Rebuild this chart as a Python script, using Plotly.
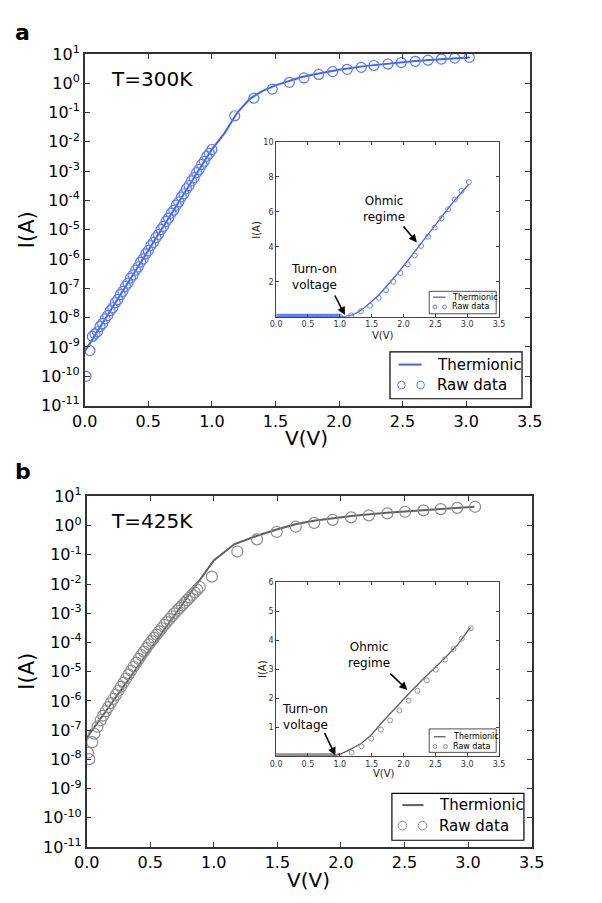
import plotly.graph_objects as go

# ---------------- Panel a : T = 300 K ----------------
v300_fit = [0.0, 1.0, 1.1, 1.2, 1.3, 1.4, 1.5, 1.6, 1.7, 1.8, 1.9, 2.0, 2.2, 2.4, 2.6, 2.8, 3.03]
i300_fit = [7e-10, 5.6e-3, 0.02, 0.1, 0.3, 0.55, 0.85, 1.2, 1.6, 2.0, 2.45, 2.9, 3.85, 4.8, 5.75, 6.65, 7.6]

v300_low = [0.01, 0.04, 0.06, 0.08, 0.10, 0.12, 0.14, 0.16, 0.18, 0.20, 0.22, 0.24, 0.26, 0.28,
            0.30, 0.32, 0.34, 0.36, 0.38, 0.40, 0.42, 0.44, 0.46, 0.48, 0.50, 0.52, 0.54, 0.56,
            0.58, 0.60, 0.62, 0.64, 0.66, 0.68, 0.70, 0.72, 0.74, 0.76, 0.78, 0.80, 0.82, 0.84,
            0.86, 0.88, 0.90, 0.92, 0.94, 0.96, 0.98, 1.00]
log_i300_low = [-10.0, -9.12, -8.64, -8.55, -8.48, -8.30, -8.20, -8.04, -7.93, -7.76, -7.66, -7.49,
                -7.38, -7.21, -7.10, -6.93, -6.82, -6.65, -6.54, -6.38, -6.27, -6.10, -5.99, -5.82,
                -5.71, -5.54, -5.43, -5.27, -5.16, -4.99, -4.88, -4.71, -4.60, -4.43, -4.33, -4.16,
                -4.05, -3.88, -3.77, -3.60, -3.49, -3.33, -3.22, -3.05, -2.94, -2.77, -2.66, -2.49,
                -2.39, -2.26]
v300_high = [1.18, 1.33, 1.475, 1.61, 1.725, 1.84, 1.95, 2.065, 2.175, 2.275, 2.385, 2.49, 2.6,
             2.7, 2.805, 2.91, 3.025]
i300_high = [0.078, 0.31, 0.63, 1.08, 1.52, 2.0, 2.5, 3.0, 3.5, 4.05, 4.57, 5.1, 5.63, 6.15, 6.7,
             7.2, 7.7]

# ---------------- Panel b : T = 425 K ----------------
v425_fit = [0.0, 0.87, 1.0, 1.16, 1.34, 1.5, 1.65, 1.8, 1.94, 2.1, 2.36, 2.65, 2.85, 3.05]
i425_fit = [5.4e-8, 1.15e-2, 0.065, 0.23, 0.45, 0.75, 1.14, 1.5, 1.82, 2.2, 2.78, 3.39, 3.85, 4.45]

v425_low = [0.01, 0.02, 0.043, 0.06, 0.085, 0.11, 0.13, 0.15, 0.17, 0.19, 0.21, 0.23, 0.25, 0.27,
            0.29, 0.31, 0.33, 0.35, 0.37, 0.39, 0.41, 0.43, 0.45, 0.47, 0.49, 0.51, 0.53, 0.55,
            0.57, 0.59, 0.61, 0.63, 0.65, 0.67, 0.69, 0.71, 0.73, 0.75, 0.77, 0.79, 0.81, 0.83,
            0.85, 0.87, 0.89]
log_i425_low = [-7.77, -7.99, -7.41, -7.12, -6.88, -6.66, -6.50, -6.35, -6.21, -6.07, -5.93, -5.79,
                -5.65, -5.51, -5.37, -5.23, -5.09, -4.96, -4.82, -4.69, -4.56, -4.43, -4.31, -4.19,
                -4.06, -3.95, -3.84, -3.73, -3.62, -3.51, -3.40, -3.30, -3.20, -3.10, -3.00, -2.91,
                -2.82, -2.73, -2.64, -2.55, -2.46, -2.37, -2.28, -2.19, -2.10]
v425_high = [0.985, 1.185, 1.34, 1.495, 1.645, 1.79, 1.935, 2.08, 2.22, 2.365, 2.505, 2.65, 2.785,
             2.915, 3.055]
i425_high = [0.018, 0.13, 0.34, 0.61, 0.92, 1.24, 1.58, 1.92, 2.26, 2.62, 2.99, 3.34, 3.7, 4.06, 4.42]

v_ticks = [0, 0.5, 1, 1.5, 2, 2.5, 3, 3.5]
v_ticktext = ["0.0", "0.5", "1.0", "1.5", "2.0", "2.5", "3.0", "3.5"]
log_ticks = list(range(-11, 2))
log_ticktext = ["10<sup>%d</sup>" % k for k in log_ticks]
series_names = ["Thermionic", "Raw data"]

i300_raw = [10 ** v for v in log_i300_low] + i300_high
v300_raw = v300_low + v300_high
i425_raw = [10 ** v for v in log_i425_low] + i425_high
v425_raw = v425_low + v425_high

BLUE_L = "#4262ee"
BLUE_M = "#5a78ff"
GREY_L = "#5f5f5f"
GREY_M = "#8c8c8c"
FONT = "DejaVu Sans"
W, H = 602, 903

fig = go.Figure()

def add_pair(vf, i_f, vr, ir, xa, ya, lc, mc, lw, ms, mw):
    fig.add_trace(go.Scatter(x=vf, y=i_f, mode="lines", name=series_names[0],
                             line=dict(color=lc, width=lw), xaxis=xa, yaxis=ya, showlegend=False))
    fig.add_trace(go.Scatter(x=vr, y=ir, mode="markers", name=series_names[1],
                             marker=dict(symbol="circle-open", size=ms, color=mc, line=dict(width=mw)),
                             xaxis=xa, yaxis=ya, showlegend=False))

add_pair(v300_fit, i300_fit, v300_raw, i300_raw, "x", "y", BLUE_L, BLUE_M, 2, 10, 1.2)
add_pair(v300_fit, i300_fit, v300_raw, i300_raw, "x2", "y2", BLUE_L, BLUE_M, 1.3, 5, 0.9)
add_pair(v425_fit, i425_fit, v425_raw, i425_raw, "x3", "y3", GREY_L, GREY_M, 2, 11, 1.2)
add_pair(v425_fit, i425_fit, v425_raw, i425_raw, "x4", "y4", GREY_L, GREY_M, 1.3, 5, 0.9)

def dx(a, b):
    return [a / W, b / W]
def dy(top, bottom):
    return [1 - bottom / H, 1 - top / H]

main_ax = dict(showline=True, linecolor="#333333", linewidth=1.6, mirror="ticks", ticks="inside",
               ticklen=5, tickcolor="#333333", showgrid=False, zeroline=False,
               tickfont=dict(family=FONT, size=16, color="black"))
inset_ax = dict(showline=True, linecolor="#444444", linewidth=1, mirror="ticks", ticks="inside",
                ticklen=3, tickcolor="#444444", showgrid=False, zeroline=False,
                tickfont=dict(family=FONT, size=8, color="#333333"))

fig.update_layout(
    width=W, height=H, margin=dict(l=0, r=0, t=0, b=0),
    paper_bgcolor="white", plot_bgcolor="white", font=dict(family=FONT), showlegend=False,
    xaxis=dict(domain=dx(75, 540), range=[0, 3.5], tickvals=v_ticks, ticktext=v_ticktext, anchor="y", **main_ax),
    yaxis=dict(domain=dy(44, 404), type="log", range=[-11, 1], tickvals=[10 ** k for k in log_ticks],
               ticktext=log_ticktext, anchor="x", **main_ax),
    xaxis2=dict(domain=dx(275, 508), range=[0, 3.5], tickvals=v_ticks, ticktext=v_ticktext, anchor="y2", **inset_ax),
    yaxis2=dict(domain=dy(134, 313), range=[0, 10], tickvals=[2, 4, 6, 8, 10], anchor="x2", **inset_ax),
    xaxis3=dict(domain=dx(77, 542), range=[0, 3.5], tickvals=v_ticks, ticktext=v_ticktext, anchor="y3", **main_ax),
    yaxis3=dict(domain=dy(497, 856), type="log", range=[-11, 1], tickvals=[10 ** k for k in log_ticks],
                ticktext=log_ticktext, anchor="x3", **main_ax),
    xaxis4=dict(domain=dx(275, 508), range=[0, 3.5], tickvals=v_ticks, ticktext=v_ticktext, anchor="y4", **inset_ax),
    yaxis4=dict(domain=dy(585, 763), range=[0, 6], tickvals=[1, 2, 3, 4, 5, 6], anchor="x4", **inset_ax),
)

ann = []
shapes = []
def px(x):
    return x / W
def py(y):
    return 1 - y / H

def txt(x, y, s, size, xanchor="center", color="black", **kw):
    d = dict(x=px(x), y=py(y), xref="paper", yref="paper", text=s, showarrow=False,
             xanchor=xanchor, yanchor="middle", font=dict(family=FONT, size=size, color=color))
    d.update(kw)
    ann.append(d)

IA = "I(A)"
txt(10, 22, "<b>a</b>", 22)
txt(10, 471, "<b>b</b>", 22)
txt(145, 70, "T=300K", 20)
txt(145, 522, "T=425K", 20)
txt(307, 437, "V(V)", 20)
txt(309, 890, "V(V)", 20)
txt(14, 224, IA, 21, textangle=-90)
txt(15, 676, IA, 21, textangle=-90)
# inset titles
txt(387, 332, "V(V)", 10, color="#222222")
txt(255, 224, IA, 10, textangle=-90, color="#222222")
txt(388, 781, "V(V)", 10, color="#222222")
txt(261, 674, IA, 10, textangle=-90, color="#222222")
# inset annotations
txt(388, 203, "Ohmic<br>regime", 12)
txt(315, 272, "Turn-on<br>voltage", 12)
txt(372, 659, "Ohmic<br>regime", 12)
txt(305, 723, "Turn-on<br>voltage", 12)

def arrow(xr, yr, x, y, axv, ayv):
    ann.append(dict(x=x, y=y, ax=axv, ay=ayv, xref=xr, yref=yr, axref=xr, ayref=yr, text="",
                    showarrow=True, arrowhead=2, arrowsize=1, arrowwidth=1.6, arrowcolor="black",
                    standoff=0))

arrow("x2", "y2", 2.21, 4.25, 1.98, 5.25)
arrow("x2", "y2", 1.08, 0.1, 0.91, 1.3)
arrow("x4", "y4", 2.06, 2.29, 1.77, 2.9)
arrow("x4", "y4", 0.93, 0.03, 0.75, 0.85)

# legend boxes drawn by hand (matplotlib style with two sample circles)
def legend(x0, y0, x1, y1, ly, lx0, lx1, cy, c1, c2, r, tx, size, lc, mc, lw, bw):
    shapes.append(dict(type="rect", xref="paper", yref="paper", x0=px(x0), x1=px(x1), y0=py(y1), y1=py(y0),
                       line=dict(color="black", width=bw), fillcolor="white", layer="above"))
    shapes.append(dict(type="line", xref="paper", yref="paper", x0=px(lx0), x1=px(lx1), y0=py(ly), y1=py(ly),
                       line=dict(color=lc, width=lw), layer="above"))
    for cx in (c1, c2):
        shapes.append(dict(type="circle", xref="paper", yref="paper", x0=px(cx - r), x1=px(cx + r),
                           y0=py(cy + r), y1=py(cy - r), line=dict(color=mc, width=1), layer="above"))
    txt(tx, ly, series_names[0], size, xanchor="left")
    txt(tx, cy, series_names[1], size, xanchor="left")

legend(394, 349, 532, 397, 362, 403, 427, 383, 406, 426, 4, 441, 15, BLUE_L, BLUE_M, 2, 1.2)
legend(396, 801, 534, 849, 813, 407, 429, 834, 407, 428, 4.5, 443, 15, GREY_L, GREY_M, 2, 1.2)
legend(435, 287, 505, 310, 293, 439, 452, 303, 441, 451, 2, 457, 8, BLUE_L, BLUE_M, 1.3, 0.7)
legend(435, 735, 505, 759, 743, 440, 452, 753, 441, 452, 2, 458, 8, GREY_L, GREY_M, 1.3, 0.7)

fig.update_layout(annotations=ann, shapes=shapes)
fig.write_html("out.html")
